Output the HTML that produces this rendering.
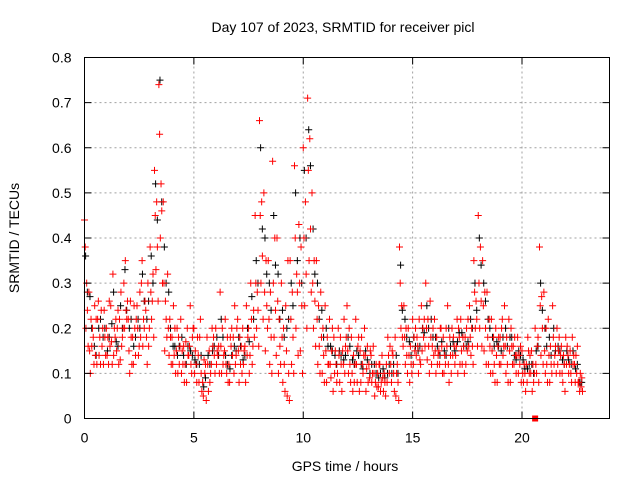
<!DOCTYPE html>
<html><head><meta charset="utf-8"><style>
body{margin:0;background:#fff;width:640px;height:480px;overflow:hidden}
text{font-family:"Liberation Sans",sans-serif;font-size:14px;fill:#000}
</style></head><body>
<svg id="chart" width="640" height="480" xmlns="http://www.w3.org/2000/svg">
<rect width="640" height="480" fill="#fff"/>
<text x="343" y="32" text-anchor="middle">Day 107 of 2023, SRMTID for receiver picl</text>
<text transform="translate(19,238) rotate(-90)" text-anchor="middle">SRMTID / TECUs</text>
<text x="345" y="471" text-anchor="middle">GPS time / hours</text>
<g id="grid"></g>
<g id="black"></g>
<g id="red"></g>
<rect x="84.5" y="57.5" width="525" height="361" fill="none" stroke="#000" stroke-width="1"/>
<g id="ticks"></g>
</svg>
<script>
const xTicks=[0,5,10,15,20];
const yTicks=[0,0.1,0.2,0.3,0.4,0.5,0.6,0.7,0.8];
const yTickLabels=["0","0.1","0.2","0.3","0.4","0.5","0.6","0.7","0.8"];
const times=[0,0.2,0.4,0.6,0.8,1,1.2,1.4,1.6,1.8,2,2.2,2.4,2.6,2.8,3,3.2,3.4,3.6,3.8,4,4.2,4.4,4.6,4.8,5,5.2,5.4,5.6,5.8,6,6.2,6.4,6.6,6.8,7,7.2,7.4,7.6,7.8,8,8.2,8.4,8.6,8.8,9,9.2,9.4,9.6,9.8,10,10.2,10.4,10.6,10.8,11,11.2,11.4,11.6,11.8,12,12.2,12.4,12.6,12.8,13,13.2,13.4,13.6,13.8,14,14.2,14.4,14.6,14.8,15,15.2,15.4,15.6,15.8,16,16.2,16.4,16.6,16.8,17,17.2,17.4,17.6,17.8,18,18.2,18.4,18.6,18.8,19,19.2,19.4,19.6,19.8,20,20.2,20.4,20.6,20.8,21,21.2,21.4,21.6,21.8,22,22.2,22.4,22.6];
const red1=[.44,.28,.18,.22,.16,.20,.25,.18,.22,.30, .22,.18,.25,.30,.24,.38,.55,.74,.48,.32, .18,.15,.22,.12,.16,.20,.14,.08,.18,.12, .20,.28,.15,.12,.18,.22,.10,.25,.30,.45, .66,.50,.35,.57,.40,.30,.25,.35,.56,.43, .60,.71,.50,.35,.28,.25,.22,.18,.20,.15, .25,.18,.22,.15,.20,.12,.16,.10,.14,.12, .12,.18,.38,.25,.20,.22,.18,.25,.30,.26, .22,.15,.18,.25,.20,.16,.22,.18,.25,.35, .45,.35,.28,.22,.20,.18,.25,.22,.16,.18, .15,.12,.10,.20,.38,.28,.22,.25,.20,.16, .18,.15,.12,.08];
const red2=[.38,.15,.12,.26,.20,.14,.17,.22,.13,.20, .15,.12,.20,.35,.18,.28,.45,.63,.30,.20, .12,.20,.10,.17,.25,.10,.08,.05,.12,.20, .12,.16,.22,.08,.10,.15,.20,.14,.22,.30, .45,.28,.22,.30,.26,.18,.15,.22,.40,.30, .40,.55,.30,.22,.18,.15,.12,.10,.14,.12, .15,.10,.12,.08,.14,.09,.10,.07,.09,.08, .08,.05,.30,.18,.14,.12,.16,.15,.20,.18, .15,.12,.10,.12,.14,.22,.15,.12,.18,.28, .30,.25,.18,.15,.14,.12,.16,.15,.12,.10, .10,.08,.15,.12,.25,.15,.14,.18,.12,.10, .12,.10,.08,.06];
const red3=[.20,.10,.25,.14,.12,.18,.12,.15,.28,.35, .10,.25,.14,.16,.12,.22,.33,.40,.15,.14, .25,.10,.15,.08,.12,.15,.18,.13,.06,.16, .15,.10,.12,.18,.25,.08,.12,.18,.12,.20, .30,.15,.12,.18,.10,.08,.05,.12,.20,.15, .25,.35,.20,.12,.10,.08,.09,.15,.08,.22, .10,.06,.08,.18,.06,.15,.05,.12,.06,.18, .15,.10,.20,.12,.08,.18,.10,.20,.13,.12, .10,.20,.14,.08,.18,.10,.12,.20,.14,.20, .20,.15,.12,.10,.08,.20,.10,.08,.18,.14, .08,.18,.06,.10,.14,.10,.08,.12,.15,.08, .16,.08,.14,.10];
const red4=[.30,.22,.14,.18,.24,.12,.32,.20,.16,.24, .26,.20,.16,.22,.30,.26,.48,.52,.26,.22, .14,.18,.12,.20,.10,.12,.22,.10,.15,.18, .14,.20,.10,.16,.12,.18,.15,.20,.16,.28, .48,.35,.28,.40,.22,.20,.35,.28,.32,.38, .48,.62,.35,.25,.20,.18,.15,.12,.18,.10, .20,.14,.16,.12,.11,.14,.08,.12,.10,.14, .14,.12,.25,.20,.16,.15,.22,.18,.22,.16, .18,.20,.12,.18,.16,.20,.18,.15,.20,.26, .38,.28,.22,.18,.16,.22,.18,.20,.14,.12, .12,.15,.12,.16,.27,.20,.16,.14,.18,.14, .14,.18,.10,.07];
const red5=[.24,.16,.22,.12,.18,.26,.14,.24,.18,.22, .18,.14,.28,.20,.16,.32,.38,.46,.22,.18, .20,.12,.16,.14,.18,.08,.10,.12,.08,.14, .16,.12,.18,.20,.14,.12,.16,.10,.24,.24, .36,.25,.18,.24,.16,.12,.10,.18,.28,.25, .32,.42,.26,.16,.14,.12,.20,.08,.12,.16, .12,.08,.18,.10,.16,.08,.12,.06,.08,.10, .10,.08,.18,.14,.12,.20,.13,.22,.16,.20, .12,.16,.20,.14,.12,.18,.16,.22,.16,.22, .26,.20,.16,.12,.18,.14,.12,.16,.10,.16, .10,.10,.08,.18,.20,.12,.12,.16,.10,.12, .10,.12,.16,.09];
const red6=[.16,.20,.12,.24,.14,.16,.20,.12,.20,.26, .12,.22,.18,.26,.20,.18,.26,.30,.18,.12, .10,.16,.08,.14,.20,.18,.06,.04,.10,.10, .10,.14,.08,.14,.20,.16,.08,.14,.18,.16, .22,.20,.10,.14,.12,.06,.04,.10,.14,.10, .20,.28,.16,.10,.08,.12,.06,.10,.06,.18, .08,.12,.06,.14,.08,.10,.07,.08,.05,.16, .06,.04,.16,.10,.10,.14,.12,.16,.10,.14, .14,.10,.16,.10,.14,.12,.10,.16,.12,.16, .16,.12,.10,.08,.12,.16,.08,.12,.14,.08, .06,.14,.10,.08,.12,.08,.10,.10,.14,.06, .12,.14,.08,.06];
const black1=[.36,.27,.16,.20,.18,.15,.21,.17,.25,.33, .20,.16,.22,.32,.22,.36,.52,.75,.38,.28, .16,.14,.18,.12,.15,.13,.12,.07,.14,.15, .18,.22,.14,.11,.16,.18,.13,.20,.27,.35, .60,.40,.30,.45,.32,.24,.20,.30,.50,.40, .55,.64,.42,.30,.24,.20,.16,.14,.15,.13, .18,.13,.15,.12,.15,.10,.12,.09,.11,.10, .10,.14,.34,.22,.17,.18,.15,.20,.25,.22, .18,.14,.15,.20,.17,.17,.19,.16,.22,.30, .40,.30,.22,.18,.17,.15,.20,.18,.14,.15, .13,.11,.12,.15,.30,.20,.18,.20,.16,.13, .15,.12,.11,.08];
const black2=[.28,.20,.14,.22,.20,.18,.28,.16,.20,.24, .22,.18,.20,.26,.26,.30,.44,.48,.30,.20, .16,.16,.14,.16,.14,.12,.14,.09,.12,.16, .14,.18,.12,.14,.15,.16,.14,.17,.22,.30, .42,.32,.24,.34,.22,.18,.22,.25,.35,.30, .40,.56,.32,.22,.18,.16,.15,.12,.14,.14, .16,.12,.14,.11,.13,.12,.10,.10,.09,.12, .12,.10,.24,.18,.14,.16,.16,.19,.20,.18, .16,.17,.14,.16,.15,.19,.16,.17,.20,.24, .34,.26,.20,.16,.16,.18,.16,.18,.13,.14, .11,.12,.10,.16,.24,.16,.14,.15,.15,.12, .13,.15,.12,.08];
const NS="http://www.w3.org/2000/svg";
const X0=84.5,X1=609.5,Y0=418.5,Y1=57.5;
const sx=v=>X0+(v/24)*(X1-X0);
const sy=v=>Y0-(v/0.8)*(Y0-Y1);
function mk(tag,attrs,parent){const e=document.createElementNS(NS,tag);for(const k in attrs)e.setAttribute(k,attrs[k]);parent.appendChild(e);return e;}
const grid=document.getElementById('grid'),ticks=document.getElementById('ticks');
yTicks.forEach((v,i)=>{
  if(i>0&&i<yTicks.length-1){const l=mk('line',{x1:X0,x2:X1,y1:sy(v),y2:sy(v),stroke:'#a0a0a0','stroke-dasharray':'2,3'},grid);
  
  }
  mk('line',{x1:X0,x2:X0+7,y1:sy(v),y2:sy(v),stroke:'#000'},ticks);
  mk('line',{x1:X1,x2:X1-7,y1:sy(v),y2:sy(v),stroke:'#000'},ticks);
  const t=mk('text',{x:X0-13,y:sy(v)+5,'text-anchor':'end'},ticks);t.textContent=yTickLabels[i];
  
  
});
xTicks.forEach(v=>{
  if(v>0){const l=mk('line',{x1:sx(v),x2:sx(v),y1:Y0,y2:Y1,stroke:'#a0a0a0','stroke-dasharray':'2,3'},grid);
  
  }
  mk('line',{x1:sx(v),x2:sx(v),y1:Y0,y2:Y0-7,stroke:'#000'},ticks);
  mk('line',{x1:sx(v),x2:sx(v),y1:Y1,y2:Y1+7,stroke:'#000'},ticks);
  const t=mk('text',{x:sx(v),y:Y0+24,'text-anchor':'middle'},ticks);t.textContent=String(v);
  
  
});
function plus(g,t,v,col){
  const x=sx(t),y=sy(v);
  const p=mk('path',{d:`M${x-3.5},${y}H${x+3.5}M${x},${y-3.5}V${y+3.5}`,stroke:col,'stroke-width':1,fill:'none'},g);
  
  
}
const bg=document.getElementById('black'),rg=document.getElementById('red');
times.forEach((t,i)=>plus(bg,t+0.05,black1[i],'#000'));
times.forEach((t,i)=>plus(bg,t+0.13,black2[i],'#000'));
[red1,red2,red3,red4,red5,red6].forEach((s,k)=>times.forEach((t,i)=>plus(rg,t+k*0.033,s[i],'#f00')));
const sq=mk('rect',{x:sx(20.6)-3,y:Y0-3,width:6,height:6,fill:'#f00'},rg);


</script>
</body></html>
